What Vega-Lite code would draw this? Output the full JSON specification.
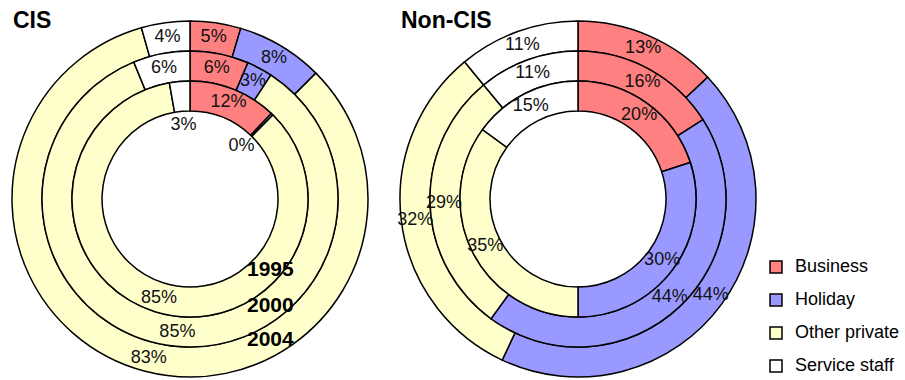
{
  "$schema": "https://vega.github.io/schema/vega-lite/v6.json",
  "padding": {"top": 9, "left": 0, "right": 0, "bottom": 0},
  "background": "white",
  "config": {"view": {"stroke": null}, "header": {"labels": false, "title": null, "labelPadding": 0, "titlePadding": 0}},
  "data": {
    "values": [
      {"chart": "CIS", "year": 1995, "category": "Business", "pct": 0.121},
      {"chart": "CIS", "year": 1995, "category": "Holiday", "pct": 0.003},
      {"chart": "CIS", "year": 1995, "category": "Other private", "pct": 0.848},
      {"chart": "CIS", "year": 1995, "category": "Service staff", "pct": 0.028},
      {"chart": "CIS", "year": 2000, "category": "Business", "pct": 0.064},
      {"chart": "CIS", "year": 2000, "category": "Holiday", "pct": 0.028},
      {"chart": "CIS", "year": 2000, "category": "Other private", "pct": 0.846},
      {"chart": "CIS", "year": 2000, "category": "Service staff", "pct": 0.062},
      {"chart": "CIS", "year": 2004, "category": "Business", "pct": 0.046},
      {"chart": "CIS", "year": 2004, "category": "Holiday", "pct": 0.079},
      {"chart": "CIS", "year": 2004, "category": "Other private", "pct": 0.831},
      {"chart": "CIS", "year": 2004, "category": "Service staff", "pct": 0.044},
      {"chart": "Non-CIS", "year": 1995, "category": "Business", "pct": 0.20},
      {"chart": "Non-CIS", "year": 1995, "category": "Holiday", "pct": 0.30},
      {"chart": "Non-CIS", "year": 1995, "category": "Other private", "pct": 0.35},
      {"chart": "Non-CIS", "year": 1995, "category": "Service staff", "pct": 0.15},
      {"chart": "Non-CIS", "year": 2000, "category": "Business", "pct": 0.16},
      {"chart": "Non-CIS", "year": 2000, "category": "Holiday", "pct": 0.44},
      {"chart": "Non-CIS", "year": 2000, "category": "Other private", "pct": 0.29},
      {"chart": "Non-CIS", "year": 2000, "category": "Service staff", "pct": 0.11},
      {"chart": "Non-CIS", "year": 2004, "category": "Business", "pct": 0.13},
      {"chart": "Non-CIS", "year": 2004, "category": "Holiday", "pct": 0.44},
      {"chart": "Non-CIS", "year": 2004, "category": "Other private", "pct": 0.32},
      {"chart": "Non-CIS", "year": 2004, "category": "Service staff", "pct": 0.11}
    ]
  },
  "facet": {"column": {"field": "chart", "type": "nominal", "header": null}},
  "spacing": 8,
  "spec": {
    "width": 380,
    "height": 380,
    "layer": [
      {
        "transform": [{"filter": "datum.year == 2004"}],
        "mark": {"type": "arc", "radius": 178, "radius2": 148, "stroke": "black", "strokeWidth": 1.5},
        "encoding": {
          "theta": {"field": "pct", "type": "quantitative", "stack": true},
          "order": {"field": "category"},
          "color": {"field": "category", "type": "nominal",
            "scale": {"domain": ["Business", "Holiday", "Other private", "Service staff"], "range": ["#FF8080", "#9999FF", "#FFFFCC", "#FFFFFF"]},
            "legend": {"title": null, "orient": "none", "legendX": 767, "legendY": 249, "padding": 0, "symbolType": "square", "symbolSize": 144, "symbolStrokeColor": "black", "symbolStrokeWidth": 1.5, "labelFont": "Liberation Sans", "labelFontSize": 18, "labelColor": "black", "labelOffset": 10, "rowPadding": 15}}
        }
      },
      {
        "transform": [{"filter": "datum.year == 2000"}],
        "mark": {"type": "arc", "radius": 148, "radius2": 118, "stroke": "black", "strokeWidth": 1.5},
        "encoding": {
          "theta": {"field": "pct", "type": "quantitative", "stack": true},
          "order": {"field": "category"},
          "color": {"field": "category", "type": "nominal"}
        }
      },
      {
        "transform": [{"filter": "datum.year == 1995"}],
        "mark": {"type": "arc", "radius": 118, "radius2": 88, "stroke": "black", "strokeWidth": 1.5},
        "encoding": {
          "theta": {"field": "pct", "type": "quantitative", "stack": true},
          "order": {"field": "category"},
          "color": {"field": "category", "type": "nominal"}
        }
      },
      {
        "mark": {"type": "text", "font": "Liberation Sans", "fontSize": 18, "color": "#111111"},
        "encoding": {
          "theta": {"field": "pct", "type": "quantitative", "stack": true},
          "radius": {"field": "year", "type": "ordinal", "scale": {"type": "point", "domain": [1995, 2000, 2004], "range": [104, 164], "padding": 0}},
          "order": {"field": "category"},
          "text": {"condition": {"test": "datum.year == 1995 && datum.pct < 0.035", "value": ""}, "field": "pct", "type": "quantitative", "format": ".0%"}
        }
      },
      {
        "transform": [{"filter": "datum.year == 1995"}],
        "mark": {"type": "text", "font": "Liberation Sans", "fontSize": 18, "color": "#111111", "radius": 74},
        "encoding": {
          "theta": {"field": "pct", "type": "quantitative", "stack": true},
          "order": {"field": "category"},
          "text": {"condition": {"test": "datum.pct < 0.035", "field": "pct", "type": "quantitative", "format": ".0%"}, "value": ""}
        }
      },
      {
        "transform": [{"filter": "datum.category == 'Business' && datum.year == 1995"}],
        "mark": {"type": "text", "font": "Liberation Sans", "fontWeight": "bold", "fontSize": 23, "align": "left", "baseline": "middle", "dx": -177, "dy": -178, "color": "black"},
        "encoding": {"text": {"field": "chart", "type": "nominal"}}
      },
      {
        "transform": [{"filter": "datum.chart == 'CIS' && datum.category == 'Business' && datum.year == 1995"}],
        "mark": {"type": "text", "font": "Liberation Sans", "fontWeight": "bold", "fontSize": 21, "align": "left", "baseline": "middle", "dx": 57, "dy": 70.5, "color": "black"},
        "encoding": {"text": {"field": "year", "type": "nominal"}}
      },
      {
        "transform": [{"filter": "datum.chart == 'CIS' && datum.category == 'Business' && datum.year == 2000"}],
        "mark": {"type": "text", "font": "Liberation Sans", "fontWeight": "bold", "fontSize": 21, "align": "left", "baseline": "middle", "dx": 57, "dy": 107, "color": "black"},
        "encoding": {"text": {"field": "year", "type": "nominal"}}
      },
      {
        "transform": [{"filter": "datum.chart == 'CIS' && datum.category == 'Business' && datum.year == 2004"}],
        "mark": {"type": "text", "font": "Liberation Sans", "fontWeight": "bold", "fontSize": 21, "align": "left", "baseline": "middle", "dx": 57, "dy": 140.5, "color": "black"},
        "encoding": {"text": {"field": "year", "type": "nominal"}}
      }
    ]
  }
}
